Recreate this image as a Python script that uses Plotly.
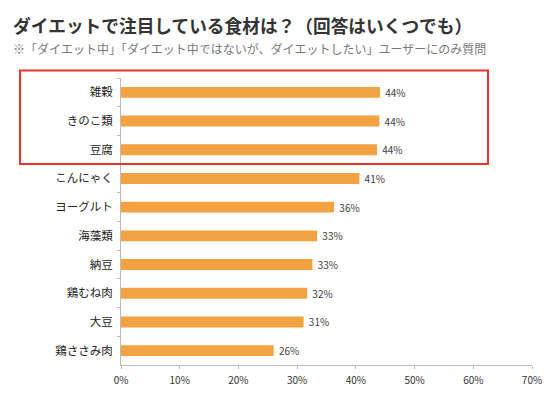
import plotly.graph_objects as go

categories = ["雑穀", "きのこ類", "豆腐", "こんにゃく", "ヨーグルト", "海藻類", "納豆", "鶏むね肉", "大豆", "鶏ささみ肉"]
values = [44.1, 44.0, 43.6, 40.6, 36.3, 33.4, 32.6, 31.7, 31.1, 26.0]
tick_vals = [0, 10, 20, 30, 40, 50, 60, 70]
tick_text = ["0%", "10%", "20%", "30%", "40%", "50%", "60%", "70%"]
title_text = "ダイエットで注目している食材は？（回答はいくつでも）"
subtitle_text = "※「ダイエット中」「ダイエット中ではないが、ダイエットしたい」ユーザーにのみ質問"

FONT = "Noto Sans CJK JP"
W, H = 553, 397
L, R, T, B = 121, 21, 78, 32

fig = go.Figure(go.Bar(
    x=values,
    y=categories,
    orientation="h",
    marker=dict(color="#F2A241", line=dict(width=0)),
    width=0.38,
    text=[f"\u00a0{v:.0f}%" for v in values],
    textposition="outside",
    constraintext="none",
    textfont=dict(size=10, color="#404040", family=FONT),
    cliponaxis=False,
    hoverinfo="skip",
))

pw, ph = W - L - R, H - T - B
def px(x):
    return (x - L) / pw
def py(y):
    return (H - B - y) / ph

fig.update_layout(
    width=W,
    height=H,
    margin=dict(l=L, r=R, t=T, b=B, autoexpand=False),
    paper_bgcolor="white",
    plot_bgcolor="white",
    showlegend=False,
    font=dict(family=FONT, color="#333333"),
    xaxis=dict(
        range=[0, 70],
        tickvals=tick_vals,
        ticktext=tick_text,
        showgrid=False,
        zeroline=False,
        showline=True,
        linecolor="#BBBBBB",
        linewidth=1,
        ticks="outside",
        ticklen=3,
        tickcolor="#BBBBBB",
        ticklabelstandoff=3,
        tickfont=dict(size=10, color="#333333", family=FONT),
    ),
    yaxis=dict(
        autorange="reversed",
        showgrid=False,
        zeroline=False,
        showline=True,
        linecolor="#BBBBBB",
        linewidth=1,
        ticks="outside",
        ticklen=3,
        tickcolor="#BBBBBB",
        tickson="boundaries",
        ticklabelstandoff=5,
        tickfont=dict(size=11.5, color="#222222", family=FONT),
    ),
    annotations=[
        dict(text=f"<b>{title_text}</b>", x=px(11), y=py(25), xref="paper", yref="paper",
             xanchor="left", yanchor="middle", showarrow=False,
             font=dict(size=17.7, color="#333333", family=FONT)),
        dict(text=subtitle_text, x=px(11), y=py(49), xref="paper", yref="paper",
             xanchor="left", yanchor="middle", showarrow=False,
             font=dict(size=12, color="#777777", family=FONT)),
    ],
    shapes=[
        dict(type="rect", xref="paper", yref="paper",
             x0=px(20), x1=px(488), y0=py(70.5), y1=py(164),
             line=dict(color="#E8322B", width=2), fillcolor="rgba(0,0,0,0)"),
    ],
)

fig.write_html("out.html", config={"displayModeBar": False},
               post_script="document.body.style.margin='0';")
